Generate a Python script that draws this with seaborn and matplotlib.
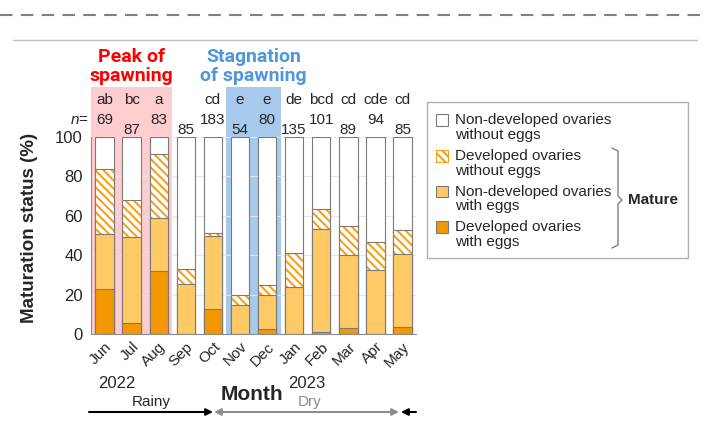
import matplotlib
matplotlib.use("Agg")
import matplotlib.pyplot as plt
from matplotlib.patches import Patch, Rectangle, FancyArrowPatch
from matplotlib.legend_handler import HandlerPatch
from matplotlib.lines import Line2D
import seaborn as sns

months = ["Jun", "Jul", "Aug", "Sep", "Oct", "Nov", "Dec", "Jan", "Feb", "Mar", "Apr", "May"]
n_fish = [69, 87, 83, 85, 183, 54, 80, 135, 101, 89, 94, 85]
letters = ["ab", "bc", "a", "", "cd", "e", "e", "de", "bcd", "cd", "cde", "cd"]

# percentages per maturation class (bottom to top)
dev_with_eggs = [23, 5.5, 32, 0, 12.7, 0, 2.4, 0, 1.0, 3.1, 0, 3.4]
nondev_with_eggs = [28, 43.7, 27, 25.4, 36.8, 14.6, 17.3, 24.1, 52.4, 37.2, 32.7, 37.4]
dev_without_eggs = [33, 18.6, 32.5, 7.5, 1.7, 5.4, 5.0, 17.1, 9.8, 14.4, 13.9, 12.1]
nondev_without_eggs = [100 - a - b - c for a, b, c in zip(dev_with_eggs, nondev_with_eggs, dev_without_eggs)]

legend_labels = ["Non-developed ovaries\nwithout eggs", "Developed ovaries\nwithout eggs",
                 "Non-developed ovaries\nwith eggs", "Developed ovaries\nwith eggs"]

C_DARK = "#F39800"
C_LIGHT = "#FFC966"
C_HATCH = "#F7A11A"
C_EDGE = "#7a7a7a"
C_PINK = "#FFCCD0"
C_BLUE = "#A6C9EC"
HATCH = "\\\\\\\\"

sns.set_style("white")
plt.rcParams["font.family"] = ["Liberation Sans", "DejaVu Sans"]
plt.rcParams["hatch.linewidth"] = 1.5
plt.rcParams["mathtext.fontset"] = "custom"
plt.rcParams["mathtext.it"] = "Liberation Sans:italic"
plt.rcParams["mathtext.rm"] = "Liberation Sans"

W, H = 707, 429
fig = plt.figure(figsize=(W / 100, H / 100), dpi=100)


def fx(x):
    return x / W


def fy(y):
    return 1 - y / H


ax = fig.add_axes([fx(91), fy(334), fx(416) - fx(91), fy(137) - fy(334)])

# cumulative tops for the overlapping stacked bars
top1 = dev_with_eggs
top2 = [a + b for a, b in zip(top1, nondev_with_eggs)]
top3 = [a + b for a, b in zip(top2, dev_without_eggs)]
top4 = [a + b for a, b in zip(top3, nondev_without_eggs)]

bw = 0.68
common = dict(x=months, order=months, width=bw, saturation=1, errorbar=None, ax=ax)
sns.barplot(y=top4, color="white", edgecolor=C_EDGE, linewidth=0.8, **common)
sns.barplot(y=top3, color="white", edgecolor=C_HATCH, linewidth=0, hatch=HATCH, **common)
sns.barplot(y=top3, color=C_EDGE, fill=False, linewidth=0.8, **common)
sns.barplot(y=top2, color=C_LIGHT, edgecolor=C_EDGE, linewidth=0.8, **common)
sns.barplot(y=top1, color=C_DARK, edgecolor=C_EDGE, linewidth=0.8, **common)

ax.set_xlim(-0.5, 11.5)
ax.set_ylim(0, 100)
ax.set_yticks(range(0, 101, 20))
ax.yaxis.grid(True, color="#e6e6e6", lw=0.8)
ax.set_axisbelow(True)
for s in ["top", "right"]:
    ax.spines[s].set_visible(False)
for s in ["left", "bottom"]:
    ax.spines[s].set_color("#8c8c8c")
    ax.spines[s].set_linewidth(0.8)
ax.tick_params(axis="y", length=4, color="#8c8c8c", labelsize=12, pad=2)
ax.set_xticks(range(12))
ax.set_xticks([i - 0.5 for i in range(13)], minor=True)
ax.tick_params(axis="x", which="major", length=0, labelsize=11, pad=4)
ax.tick_params(axis="x", which="minor", length=5, color="#8c8c8c")
ax.set_xticklabels(months, rotation=45, ha="right", rotation_mode="anchor")
ax.set_xlabel("")
ax.set_ylabel("Maturation status (%)", fontsize=13.5, fontweight="bold")
ax.yaxis.set_label_coords(-0.163, 0.538)

# highlighted periods
ax.add_patch(Rectangle((-0.5, 0), 3, 125.5, facecolor=C_PINK, edgecolor="none", clip_on=False, zorder=0.1))
ax.add_patch(Rectangle((4.5, 0), 2, 125.5, facecolor=C_BLUE, edgecolor="none", clip_on=False, zorder=0.1))
title_font = ["Roboto", "DejaVu Sans"]
ax.text(1, 135.8, "Peak of\nspawning", ha="center", va="center", color="#FF0000", fontsize=14,
        fontweight="bold", linespacing=1.1, family=title_font)
ax.text(5.5, 135.8, "Stagnation\nof spawning", ha="center", va="center", color="#4F96DC", fontsize=14,
        fontweight="bold", linespacing=1.1, family=title_font)

# letters and sample sizes
for i, (lt, n) in enumerate(zip(letters, n_fish)):
    ax.text(i, 118.8, lt, ha="center", va="center", fontsize=11, clip_on=False)
    ax.text(i, 108.6 if i % 2 == 0 else 103.6, str(n), ha="center", va="center", fontsize=11, clip_on=False)
ax.text(-0.58, 108.6, "$\\mathit{n}$=", ha="right", va="center", fontsize=11)


# legend with a separate frame, handles aligned to the first text line
class TopHandler(HandlerPatch):
    def create_artists(self, legend, orig_handle, xdescent, ydescent, width, height, fontsize, trans):
        p = Rectangle((-xdescent, -ydescent + 0.5 * fontsize), width, height)
        self.update_prop(p, orig_handle, legend)
        p.set_transform(trans)
        return [p]


handles = [Patch(facecolor="white", edgecolor=C_EDGE, lw=0.8),
           Patch(facecolor="white", edgecolor=C_HATCH, hatch=HATCH, lw=0.8),
           Patch(facecolor=C_LIGHT, edgecolor=C_EDGE, lw=0.8),
           Patch(facecolor=C_DARK, edgecolor=C_EDGE, lw=0.8)]
leg = fig.legend(handles, legend_labels, loc="upper left", bbox_to_anchor=(fx(436), fy(113)), frameon=False,
                 fontsize=11, borderpad=0, borderaxespad=0, handlelength=0.8, handleheight=0.8,
                 handletextpad=0.45, labelspacing=0.45, handler_map={Patch: TopHandler()})
for t in leg.get_texts():
    t.set_linespacing(1.08)
fig.add_artist(Rectangle((fx(427), fy(258)), fx(688) - fx(427), fy(102) - fy(258), transform=fig.transFigure,
                         facecolor="none", edgecolor="#b0b0b0", lw=1))
bx = [612, 618, 618, 622, 618, 618, 612]
by = [148, 151, 196, 200, 204, 245, 248]
fig.add_artist(Line2D([fx(v) for v in bx], [fy(v) for v in by], color="#808080", lw=1))
fig.text(fx(628), fy(200), "Mature", fontsize=11, fontweight="bold", va="center")

# bottom annotations
fig.text(fx(117), fy(384), "2022", fontsize=12, ha="center", va="center")
fig.text(fx(307), fy(384), "2023", fontsize=12, ha="center", va="center")
fig.text(fx(252), fy(394), "Month", fontsize=15, fontweight="bold", ha="center", va="center")
fig.text(fx(151), fy(402), "Rainy", fontsize=11, ha="center", va="center")
fig.text(fx(310), fy(402), "Dry", fontsize=11, ha="center", va="center", color="#8c8c8c")
arrows = [((89, 412), (213, 412), "-|>", "black"),
          ((214, 412), (399, 412), "<|-|>", "#8c8c8c"),
          ((416, 412), (401, 412), "-|>", "black")]
for (x0, y0), (x1, y1), st, col in arrows:
    fig.add_artist(FancyArrowPatch((fx(x0), fy(y0)), (fx(x1), fy(y1)), transform=fig.transFigure,
                                   arrowstyle=st, mutation_scale=10, color=col, lw=1.5, shrinkA=0, shrinkB=0))

# page decoration lines
fig.add_artist(Line2D([0, 1], [fy(15), fy(15)], color="#808080", lw=1.5, dashes=(6, 4)))
fig.add_artist(Line2D([fx(13), fx(697)], [fy(40), fy(40)], color="#c0c0c0", lw=1))

fig.savefig("out.png", dpi=100)
